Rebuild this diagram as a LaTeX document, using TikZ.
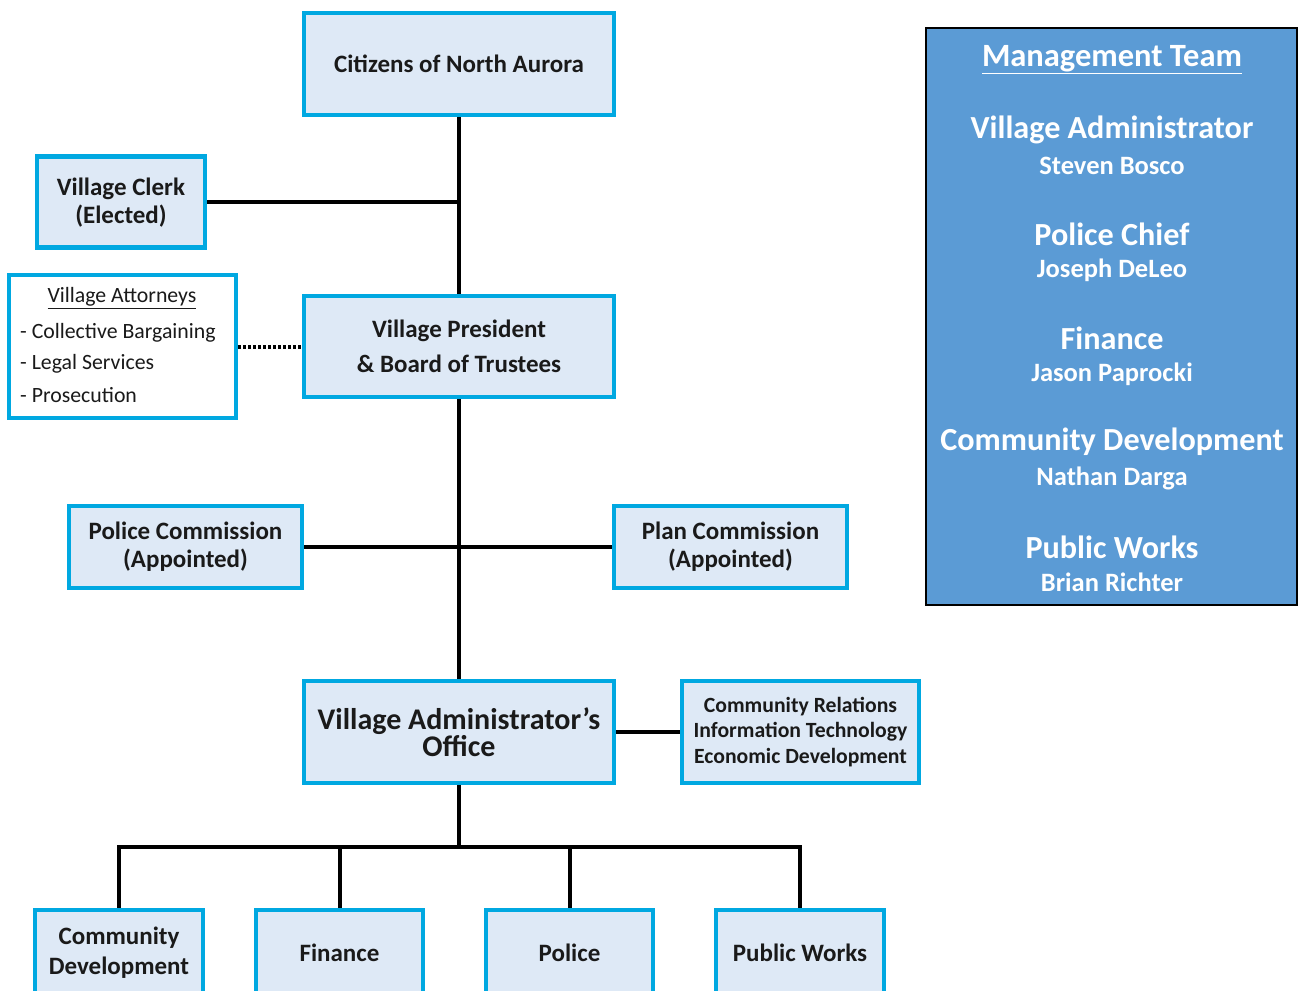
\documentclass[tikz,border=0pt]{standalone}
\usepackage{fontspec}
\setmainfont{Carlito}
\definecolor{cyanb}{HTML}{00A8E1}
\definecolor{lightb}{HTML}{DEE9F6}
\definecolor{mgmt}{HTML}{5B9BD5}
\definecolor{ink}{HTML}{1A1A1A}
\newcommand{\fs}[2]{\fontsize{#1}{#2}\selectfont}
\begin{document}
\begin{tikzpicture}[x=1pt,y=-1pt,
  box/.style={draw=cyanb, fill=lightb, line width=4.5pt, inner sep=0pt, align=center, text=ink, font=\bfseries\fs{25}{28}},
  conn/.style={line width=4pt, draw=black},
  mtitle/.style={text=white, font=\bfseries\fs{32.2}{34}, inner sep=0pt},
  mname/.style={text=white, font=\bfseries\fs{26.5}{28}, inner sep=0pt},
  atxt/.style={text=ink, font=\fs{21.8}{24}, inner sep=0pt, anchor=west}]
\clip (0,0) rectangle (1305,990);
\fill[white] (0,0) rectangle (1305,990);

% nodes
\node[box, minimum width=310, minimum height=102] (cit) at (459,64) {Citizens of North Aurora};
\node[box, minimum width=168, minimum height=91, text depth=2pt] (clerk) at (121,202) {Village Clerk\\(Elected)};
\node[box, fill=white, minimum width=227, minimum height=143] (att) at (122.5,346.5) {};
\node[box, minimum width=310, minimum height=101, font=\bfseries\fs{25}{35}] (pres) at (459,346.5) {Village President\\\& Board of Trustees};
\node[box, minimum width=233, minimum height=82] (polc) at (185.5,547) {Police Commission\\(Appointed)};
\node[box, minimum width=233, minimum height=82] (planc) at (730.5,547) {Plan Commission\\(Appointed)};
\node[box, minimum width=310, minimum height=102, font=\bfseries\fs{30}{25}] (adm) at (459,732) {Village Administrator’s\\Office};
\node[box, minimum width=237, minimum height=102, font=\bfseries\fs{21.7}{25.5}] (cr) at (800.5,732) {Community Relations\\Information Technology\\Economic Development};
\node[box, minimum width=168, minimum height=86, font=\bfseries\fs{25}{30}] (cd) at (119,953) {Community\\Development};
\node[box, minimum width=167, minimum height=86] (fin) at (339.5,953) {Finance};
\node[box, minimum width=167, minimum height=86] (pol) at (569.5,953) {Police};
\node[box, minimum width=168, minimum height=86] (pw) at (800,953) {Public Works};

% attorneys text
\node[text=ink, font=\fs{21.8}{24}, inner sep=0pt] (attt) at (122,298) {\underline{Village Attorneys}};
\node[atxt] (att1) at (20,333) {- Collective Bargaining};
\node[atxt] (att2) at (20,364) {- Legal Services};
\node[atxt] (att3) at (20,395) {- Prosecution};

% connectors
\coordinate (jclerk) at (459,202);
\coordinate (jbot) at (459,847);
\coordinate (bcd) at (119,847);
\coordinate (bfin) at (339.5,847);
\coordinate (bpol) at (569.5,847);
\coordinate (bpw) at (800,847);
\draw[conn] (cit.south) -- (pres.north);
\draw[conn] (clerk.east) -- (jclerk);
\draw[line width=4pt, dash pattern=on 3pt off 2pt] (att.east) -- (pres.west);
\draw[conn] (pres.south) -- (adm.north);
\draw[conn] (polc.east) -- (planc.west);
\draw[conn] (adm.east) -- (cr.west);
\draw[conn] (adm.south) -- (jbot);
\draw[conn, line cap=rect] (bcd) -- (bpw);
\draw[conn] (bcd) -- (cd.north);
\draw[conn] (bfin) -- (fin.north);
\draw[conn] (bpol) -- (pol.north);
\draw[conn] (bpw) -- (pw.north);

% management team
\node[draw=black, line width=2.5pt, fill=mgmt, minimum width=371, minimum height=577, inner sep=0pt] (mgt) at (1111.5,316.5) {};
\node[text=white, font=\bfseries\fs{32.5}{34}, inner sep=0pt] (mt) at (1112,60) {\underline{Management Team}};
\node[mtitle] (m1) at (1112,130) {Village Administrator};
\node[mname] (n1) at (1112,166) {Steven Bosco};
\node[mtitle] (m2) at (1112,234) {Police Chief};
\node[mname] (n2) at (1112,270) {Joseph DeLeo};
\node[mtitle] (m3) at (1112,338) {Finance};
\node[mname] (n3) at (1112,374) {Jason Paprocki};
\node[mtitle] (m4) at (1112,442) {Community Development};
\node[mname] (n4) at (1112,478) {Nathan Darga};
\node[mtitle] (m5) at (1112,547) {Public Works};
\node[mname] (n5) at (1112,582) {Brian Richter};
\end{tikzpicture}
\end{document}
